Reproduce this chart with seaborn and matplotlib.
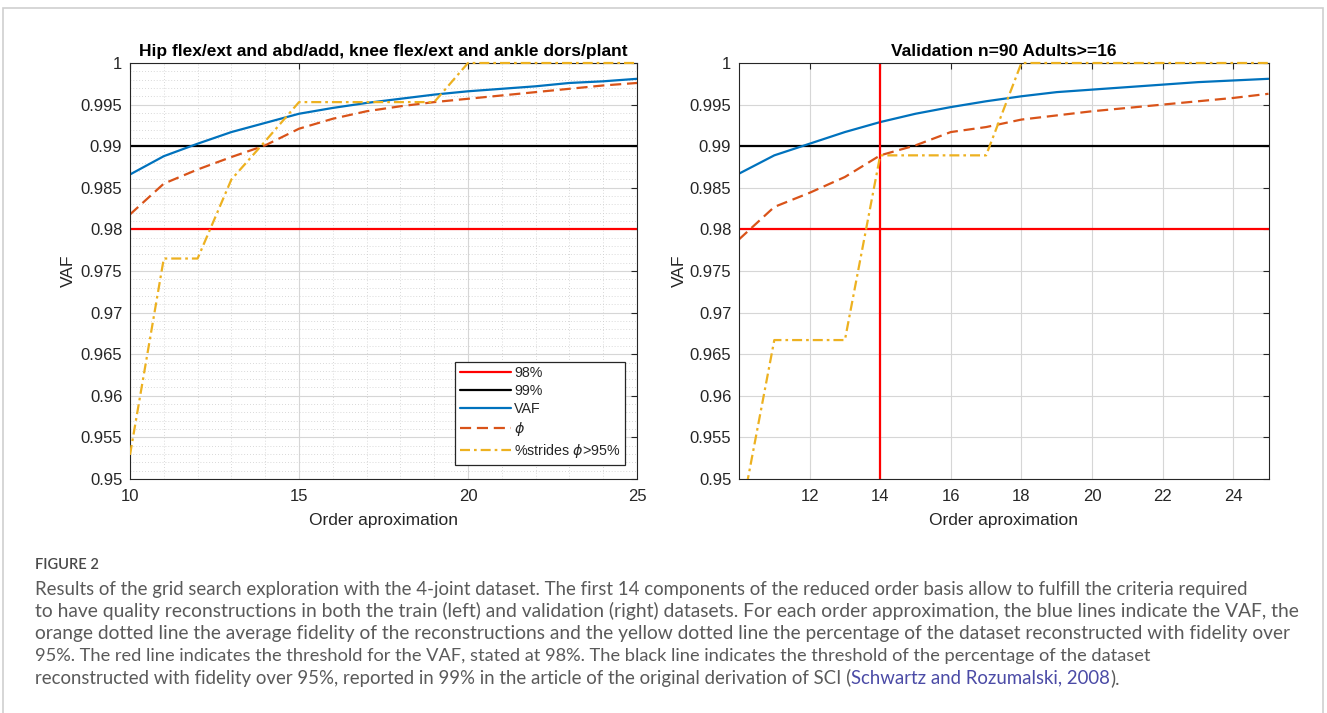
import matplotlib
matplotlib.use("Agg")
import matplotlib.pyplot as plt
import seaborn as sns
from matplotlib.ticker import MultipleLocator, FuncFormatter, FixedLocator
from matplotlib.patches import Rectangle
from matplotlib.lines import Line2D
from matplotlib.transforms import Bbox, TransformedBbox

# ---------------- data ----------------
order = list(range(10, 26))

train_vaf = [0.9866, 0.9888, 0.9903, 0.9917, 0.9928, 0.9939, 0.9946, 0.9952,
             0.9957, 0.9962, 0.9966, 0.9969, 0.9972, 0.9976, 0.9978, 0.9981]
train_phi = [0.9818, 0.9855, 0.9872, 0.9887, 0.9901, 0.9921, 0.9933, 0.9942,
             0.9948, 0.9953, 0.9957, 0.9961, 0.9965, 0.9969, 0.9973, 0.9976]
train_strides = [0.9529, 0.9765, 0.9765, 0.9860, 0.9906, 0.9953, 0.9953, 0.9953,
                 0.9953, 0.9953, 1.0, 1.0, 1.0, 1.0, 1.0, 1.0]

val_vaf = [0.9867, 0.9889, 0.9903, 0.9917, 0.9929, 0.9939, 0.9947, 0.9954,
           0.9960, 0.9965, 0.9968, 0.9971, 0.9974, 0.9977, 0.9979, 0.9981]
val_phi = [0.9788, 0.9827, 0.9844, 0.9863, 0.9889, 0.9901, 0.9917, 0.9923,
           0.9932, 0.9937, 0.9942, 0.9946, 0.9950, 0.9954, 0.9958, 0.9963]
val_strides = [0.9444, 0.9667, 0.9667, 0.9667, 0.9889, 0.9889, 0.9889, 0.9889,
               1.0, 1.0, 1.0, 1.0, 1.0, 1.0, 1.0, 1.0]

thr_vaf = 0.98
thr_strides = 0.99
chosen_order = 14

x_ticks_train = [10, 15, 20, 25]
x_ticks_val = [12, 14, 16, 18, 20, 22, 24]
y_ticks = [0.95, 0.955, 0.96, 0.965, 0.97, 0.975, 0.98, 0.985, 0.99, 0.995, 1.0]

title_train = "Hip flex/ext and abd/add, knee flex/ext and ankle dors/plant"
title_val = "Validation n=90 Adults>=16"
xlabel = "Order aproximation"
ylabel = "VAF"
legend_labels = ["98%", "99%", "VAF", r"$\phi$", r"%strides $\phi$>95%"]

caption_head = "FIGURE 2"
caption_lines = [
    "Results of the grid search exploration with the 4-joint dataset. The first 14 components of the reduced order basis allow to fulfill the criteria required",
    "to have quality reconstructions in both the train (left) and validation (right) datasets. For each order approximation, the blue lines indicate the VAF, the",
    "orange dotted line the average fidelity of the reconstructions and the yellow dotted line the percentage of the dataset reconstructed with fidelity over",
    "95%. The red line indicates the threshold for the VAF, stated at 98%. The black line indicates the threshold of the percentage of the dataset",
]
caption_last = ["reconstructed with fidelity over 95%, reported in 99% in the article of the original derivation of SCI (",
                "Schwartz and Rozumalski, 2008", ")."]

# ---------------- style ----------------
sns.set_style("white")
plt.rcParams['font.family'] = ['Liberation Sans', 'DejaVu Sans']
plt.rcParams['mathtext.fontset'] = 'dejavusans'

C_BLUE = "#0072BD"
C_ORANGE = "#D95319"
C_YELLOW = "#EDB120"
C_AX = "#262626"
LW = 1.6
DASH = (0, (5, 2.6))
DASHDOT = (0, (4.5, 1.8, 1.2, 1.8))

W, H = 1327, 713
fig = plt.figure(figsize=(W / 100, H / 100), dpi=100)
fig.patch.set_facecolor("white")

def px_rect(l, r, t, b):
    return [l / W, 1 - b / H, (r - l) / W, (b - t) / H]

ax1 = fig.add_axes(px_rect(130, 637, 63, 479))
ax2 = fig.add_axes(px_rect(739, 1268.5, 63, 479))

fmt = FuncFormatter(lambda v, p: "%g" % round(v, 4))

def style_axes(ax, xticks, minor):
    ax.set_xlim(10, 25)
    ax.set_ylim(0.95, 1.0)
    ax.xaxis.set_major_locator(FixedLocator(xticks))
    ax.yaxis.set_major_locator(FixedLocator(y_ticks))
    ax.yaxis.set_major_formatter(fmt)
    ax.xaxis.set_major_formatter(fmt)
    ax.set_axisbelow(True)
    ax.grid(which="major", color="#d6d6d6", linewidth=0.8, linestyle="-")
    if minor:
        ax.xaxis.set_minor_locator(MultipleLocator(1))
        ax.yaxis.set_minor_locator(MultipleLocator(0.001))
        ax.grid(which="minor", color="#cccccc", linewidth=0.6, linestyle=(0, (1, 2.5)))
    ax.tick_params(which="major", direction="in", length=4, width=0.8, color=C_AX,
                   top=True, right=True, labelsize=12, labelcolor=C_AX)
    ax.tick_params(axis="y", which="major", pad=5.5)
    ax.tick_params(axis="x", which="major", pad=7.5)
    ax.tick_params(which="minor", length=0, top=True, right=True)
    for s in ax.spines.values():
        s.set_color(C_AX)
        s.set_linewidth(0.8)
    ax.set_xlabel(xlabel, fontsize=12.5, color=C_AX, labelpad=6)
    ax.set_ylabel(ylabel, fontsize=12.5, color=C_AX)

def draw_series(ax, vaf, phi, strides):
    h1 = ax.axhline(thr_vaf, color="#FF0000", linewidth=LW)
    h2 = ax.axhline(thr_strides, color="black", linewidth=LW)
    sns.lineplot(x=order, y=vaf, ax=ax, color=C_BLUE, linewidth=LW, legend=False)
    sns.lineplot(x=order, y=phi, ax=ax, color=C_ORANGE, linewidth=LW, linestyle=DASH, legend=False)
    sns.lineplot(x=order, y=strides, ax=ax, color=C_YELLOW, linewidth=LW, linestyle=DASHDOT, legend=False)
    lines = ax.get_lines()
    ystr = lines[-1]
    ystr.set_zorder(3)
    # let the top step show over the upper frame like the original
    ystr.set_clip_box(TransformedBbox(Bbox([[0, 0], [1, 1.02]]), ax.transAxes))
    return [h1, h2, lines[-3], lines[-2], lines[-1]]

handles = draw_series(ax1, train_vaf, train_phi, train_strides)
style_axes(ax1, x_ticks_train, True)
ax1.set_title(title_train, fontsize=12.5, fontweight="bold", color="black", pad=5)
ax1.yaxis.set_label_coords(-0.106, 0.5)

leg_handles = [Line2D([], [], color=h.get_color(), linewidth=LW) for h in handles]
leg_handles[3].set_linestyle(DASH)
leg_handles[4].set_linestyle(DASHDOT)
leg = ax1.legend(leg_handles, legend_labels, loc="lower right", bbox_to_anchor=(0.976, 0.034),
                 borderaxespad=0, fancybox=False, framealpha=1, edgecolor=C_AX,
                 fontsize=10.3, handlelength=3.6, handletextpad=0.2, labelspacing=0.28,
                 borderpad=0.32)
leg.get_frame().set_linewidth(0.9)
for t in leg.get_texts():
    t.set_color(C_AX)

draw_series(ax2, val_vaf, val_phi, val_strides)
ax2.axvline(chosen_order, color="#FF0000", linewidth=LW)
style_axes(ax2, x_ticks_val, False)
ax2.set_title(title_val, fontsize=12.5, fontweight="bold", color="black", pad=5)
ax2.yaxis.set_label_coords(-0.099, 0.5)

# ---------------- frame & caption ----------------
fig.patches.append(Rectangle((3 / W, -0.1), (1323 - 3) / W, 1.1 - 8 / H,
                             transform=fig.transFigure, fill=False,
                             edgecolor="#cfcfcf", linewidth=1.2))

CAP_FONT = ['Lato', 'DejaVu Sans']
CAP_COL = "#5a5a5a"
LINK_COL = "#4b4ba6"
X0 = 35
fig.text(X0 / W, 1 - 565 / H, caption_head, fontsize=10.5, fontweight=600,
         color="#4a4a4a", family=CAP_FONT, va="center", ha="left")

renderer = fig.canvas.get_renderer()

def measure(s, size=12):
    t = fig.text(0, 0, s, fontsize=size, family=CAP_FONT)
    w = t.get_window_extent(renderer).width
    t.remove()
    return w

centers = [589, 611, 633, 656, 678]
line_ends = [1243, 1293, 1294, 1145, 1118]

for yc, xe, line in zip(centers, line_ends, caption_lines):
    size = 12 * (xe - X0) / measure(line)
    fig.text(X0 / W, 1 - yc / H, line, fontsize=size, color=CAP_COL, family=CAP_FONT,
             va="center", ha="left")

size_last = 12 * (line_ends[-1] - X0) / measure("".join(caption_last))
xcur = X0
for part, col in zip(caption_last, [CAP_COL, LINK_COL, CAP_COL]):
    t = fig.text(xcur / W, 1 - centers[-1] / H, part, fontsize=size_last, color=col,
                 family=CAP_FONT, va="center", ha="left")
    xcur += t.get_window_extent(renderer).width

fig.savefig("out.png", dpi=100, facecolor="white")
